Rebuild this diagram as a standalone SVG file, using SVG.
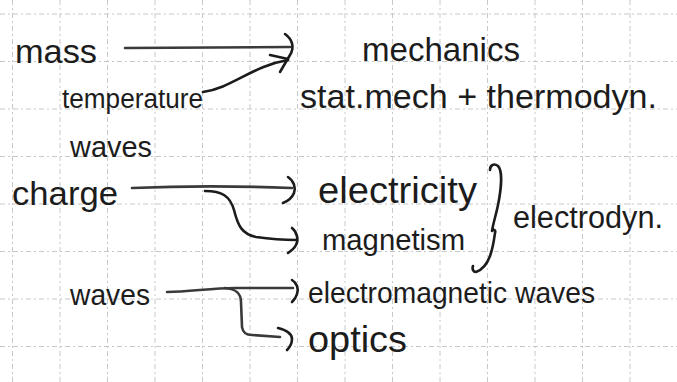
<svg xmlns="http://www.w3.org/2000/svg" width="677" height="382" viewBox="0 0 677 382">
  <style>
    .grid line { stroke: #c8c8c8; stroke-width: 1; stroke-dasharray: 5 3 2 3; }
    .lbl { font-family: "Liberation Sans", "DejaVu Sans", sans-serif; fill: #1c1c1c; }
    .wire { fill: none; stroke: #3a3a3a; stroke-width: 2.6; stroke-linecap: round; stroke-linejoin: round; }
    .head { fill: none; stroke: #1c1c1c; stroke-width: 2.6; stroke-linecap: round; stroke-linejoin: round; }
  </style>
  <rect width="677" height="382" fill="#ffffff"/>

  <!-- squared paper -->
  <g class="grid">
    <line x1="12.5" y1="0" x2="12.5" y2="382"/>
    <line x1="60" y1="0" x2="60" y2="382"/>
    <line x1="107.5" y1="0" x2="107.5" y2="382"/>
    <line x1="155" y1="0" x2="155" y2="382"/>
    <line x1="202.5" y1="0" x2="202.5" y2="382"/>
    <line x1="250" y1="0" x2="250" y2="382"/>
    <line x1="297.5" y1="0" x2="297.5" y2="382"/>
    <line x1="345" y1="0" x2="345" y2="382"/>
    <line x1="392.5" y1="0" x2="392.5" y2="382"/>
    <line x1="440" y1="0" x2="440" y2="382"/>
    <line x1="487.5" y1="0" x2="487.5" y2="382"/>
    <line x1="535" y1="0" x2="535" y2="382"/>
    <line x1="582.5" y1="0" x2="582.5" y2="382"/>
    <line x1="630" y1="0" x2="630" y2="382"/>
    <line x1="0" y1="14" x2="677" y2="14"/>
    <line x1="0" y1="61.5" x2="677" y2="61.5"/>
    <line x1="0" y1="109" x2="677" y2="109"/>
    <line x1="0" y1="156.5" x2="677" y2="156.5"/>
    <line x1="0" y1="204" x2="677" y2="204"/>
    <line x1="0" y1="251.5" x2="677" y2="251.5"/>
    <line x1="0" y1="299" x2="677" y2="299"/>
    <line x1="0" y1="346.5" x2="677" y2="346.5"/>
  </g>

  <!-- quantities -->
  <g id="mass"><text class="lbl" x="15" y="63" font-size="33" textLength="82" lengthAdjust="spacingAndGlyphs">mass</text></g>
  <g id="temperature"><text class="lbl" x="62" y="108" font-size="27" textLength="141" lengthAdjust="spacingAndGlyphs">temperature</text></g>
  <g id="waves-1"><text class="lbl" x="70" y="157" font-size="30" textLength="82" lengthAdjust="spacingAndGlyphs">waves</text></g>
  <g id="charge"><text class="lbl" x="12" y="205" font-size="34" textLength="106" lengthAdjust="spacingAndGlyphs">charge</text></g>
  <g id="waves-2"><text class="lbl" x="70" y="305" font-size="30" textLength="80" lengthAdjust="spacingAndGlyphs">waves</text></g>

  <!-- fields -->
  <g id="mechanics"><text class="lbl" x="362" y="61" font-size="33" textLength="158" lengthAdjust="spacingAndGlyphs">mechanics</text></g>
  <g id="statmech"><text class="lbl" x="300" y="108" font-size="33" textLength="357" lengthAdjust="spacingAndGlyphs">stat.mech + thermodyn.</text></g>
  <g id="electricity"><text class="lbl" x="318" y="203" font-size="36" textLength="159" lengthAdjust="spacingAndGlyphs">electricity</text></g>
  <g id="magnetism"><text class="lbl" x="322" y="250" font-size="30" textLength="143" lengthAdjust="spacingAndGlyphs">magnetism</text></g>
  <g id="em-waves"><text class="lbl" x="308" y="303" font-size="29" textLength="287" lengthAdjust="spacingAndGlyphs">electromagnetic waves</text></g>
  <g id="optics"><text class="lbl" x="308" y="352" font-size="36" textLength="99" lengthAdjust="spacingAndGlyphs">optics</text></g>
  <g id="electrodyn"><text class="lbl" x="513" y="228" font-size="31" textLength="150" lengthAdjust="spacingAndGlyphs">electrodyn.</text></g>

  <!-- arrows and brace -->
  <g id="connectors">
    <!-- mass -> mechanics -->
    <path class="wire" d="M125,48 L290,47"/>
    <path class="head" d="M285,34 C292,39 295,47 290,55 L280,72"/>
    <!-- temperature -> mechanics -->
    <path class="head" d="M203,92 C232,88 252,66 288,60"/>
    <path class="head" d="M270,55 L288,59"/>

    <!-- charge -> electricity -->
    <path class="wire" d="M132,188 C180,186 240,186 292,188"/>
    <path class="head" d="M288,177 C294,181 296,188 294,193 C292,198 288,201 283,203"/>
    <!-- charge -> magnetism -->
    <path class="head" d="M205,191 C222,191 230,196 234,210 C238,226 242,234 256,237 C270,239 284,240 296,240"/>
    <path class="head" d="M292,228 C297,232 299,240 296,245 C294,249 291,251 288,253"/>

    <!-- waves -> electromagnetic waves -->
    <path class="wire" d="M167,292 C190,292 210,288 235,288 L293,288"/>
    <path class="head" d="M292,280 C297,283 299,289 297,294 C296,298 294,300 292,302"/>
    <!-- waves -> optics -->
    <path class="wire" d="M225,288 C236,289 241,293 241,302 L242,327 C243,333 246,335 252,335 L280,337"/>
    <path class="head" d="M278,328 C286,330 292,334 292,339 C292,344 290,347 287,350"/>

    <!-- brace grouping electricity and magnetism -->
    <path class="head" d="M490,170 C490,165 494,163 498,166 C503,171 501,190 498,205 C496,215 493,224 492,231 C494,229 496,230 495,233 C494,240 493,248 490,256 C487,264 482,270 476,272 C473,272 472,269 473,266"/>
  </g>
</svg>
